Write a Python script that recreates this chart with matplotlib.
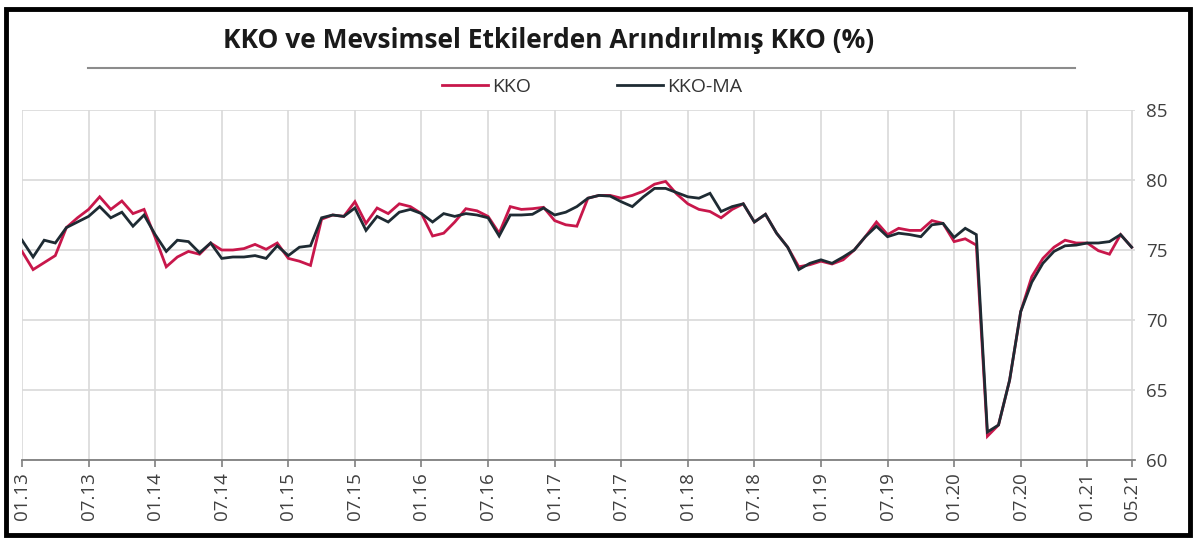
import matplotlib
matplotlib.use("Agg")
import matplotlib.pyplot as plt
from matplotlib.patches import Rectangle
from matplotlib.lines import Line2D

plt.rcParams['font.family'] = ['Open Sans', 'DejaVu Sans']

title = "KKO ve Mevsimsel Etkilerden Arındırılmış KKO (%)"
series_names = ["KKO", "KKO-MA"]

tick_labels = ["01.13", "07.13", "01.14", "07.14", "01.15", "07.15", "01.16", "07.16",
               "01.17", "07.17", "01.18", "07.18", "01.19", "07.19", "01.20", "07.20",
               "01.21", "05.21"]
tick_positions = [0, 6, 12, 18, 24, 30, 36, 42, 48, 54, 60, 66, 72, 78, 84, 90, 96, 100]

kko = [
    74.9, 73.6, 74.1, 74.6, 76.6, 77.3, 77.9, 78.8, 77.9, 78.5, 77.6, 77.9,
    75.9, 73.8, 74.5, 74.9, 74.7, 75.5, 75.0, 75.0, 75.1, 75.4, 75.05, 75.5,
    74.4, 74.2, 73.9, 77.2, 77.5, 77.4, 78.45, 76.9, 78.0, 77.6, 78.3, 78.1,
    77.6, 76.0, 76.2, 77.0, 77.95, 77.8, 77.4, 76.2, 78.1, 77.9, 77.95, 78.05,
    77.1, 76.8, 76.7, 78.7, 78.9, 78.9, 78.7, 78.9, 79.2, 79.7, 79.9, 79.0,
    78.3, 77.9, 77.75, 77.3, 77.9, 78.3, 77.0, 77.55, 76.2, 75.2, 73.8, 73.95,
    74.2, 74.0, 74.3, 75.0, 75.95, 77.0, 76.1, 76.55, 76.4, 76.4, 77.1, 76.9,
    75.6, 75.8, 75.35, 61.7, 62.5, 65.7, 70.6, 73.1, 74.4, 75.2, 75.7, 75.5,
    75.5, 74.95, 74.7, 76.1, 75.2,
]

kko_ma = [
    75.7, 74.5, 75.7, 75.5, 76.6, 77.0, 77.4, 78.1, 77.3, 77.7, 76.7, 77.5,
    76.1, 74.9, 75.7, 75.6, 74.8, 75.5, 74.4, 74.5, 74.5, 74.6, 74.4, 75.3,
    74.6, 75.2, 75.3, 77.3, 77.5, 77.4, 78.0, 76.4, 77.4, 77.0, 77.7, 77.9,
    77.6, 77.0, 77.6, 77.4, 77.6, 77.5, 77.3, 76.0, 77.5, 77.5, 77.55, 78.0,
    77.5, 77.7, 78.1, 78.7, 78.9, 78.85, 78.45, 78.1, 78.8, 79.4, 79.4, 79.1,
    78.8, 78.7, 79.05, 77.75, 78.1, 78.3, 77.0, 77.55, 76.2, 75.2, 73.6, 74.05,
    74.3, 74.05, 74.5, 75.0, 75.95, 76.7, 75.95, 76.2, 76.1, 75.95, 76.8, 76.9,
    75.9, 76.55, 76.1, 62.0, 62.5, 65.7, 70.6, 72.7, 74.05, 74.9, 75.3, 75.35,
    75.5, 75.5, 75.6, 76.1, 75.2,
]

y_ticks = [60, 65, 70, 75, 80, 85]

RED = "#C8174B"
DARK = "#1E2B33"
W, H = 1200, 544

fig = plt.figure(figsize=(12, 5.44), dpi=100)
fig.patch.set_facecolor("white")

ax = fig.add_axes([22 / W, 1 - 460 / H, (1135 - 22) / W, (460 - 110) / H])
x = list(range(len(kko)))
l1, = ax.plot(x, kko, color=RED, lw=2.0, solid_joinstyle="miter", zorder=3)
l2, = ax.plot(x, kko_ma, color=DARK, lw=2.0, solid_joinstyle="miter", zorder=4)

ax.set_xlim(0, 100.3)
ax.set_ylim(60, 85)
ax.set_xticks(tick_positions)
ax.set_xticklabels(tick_labels, rotation=90, fontsize=13.5, color="#404040")
ax.set_yticks(y_ticks)
ax.set_yticklabels([str(v) for v in y_ticks], fontsize=13.5, color="#404040")
ax.yaxis.tick_right()
ax.tick_params(axis="y", length=0, pad=8)
ax.tick_params(axis="x", length=5, width=1.2, color="#7f7f7f", pad=4)
for s in ["top", "left", "right"]:
    ax.spines[s].set_visible(False)
ax.spines["bottom"].set_color("#7f7f7f")
ax.spines["bottom"].set_linewidth(1.3)
ax.grid(True, color="#d9d9d9", lw=1.2, zorder=0)
ax.set_axisbelow(True)

# Title and separator line
fig.text(549 / W, 1 - 40 / H, title, ha="center", va="center",
         fontsize=19, fontweight="bold", color="#1a1a1a")
fig.add_artist(Line2D([88 / W, 1075 / W], [1 - 68 / H, 1 - 68 / H],
                      color="#8c8c8c", lw=1.5, transform=fig.transFigure))

# Legend
leg = fig.legend([l1, l2], series_names, loc="center",
                 bbox_to_anchor=(592 / W, 1 - 87 / H), ncol=2, frameon=False,
                 fontsize=14, handlelength=2.4, handletextpad=0.2,
                 columnspacing=4.4)
for t in leg.get_texts():
    t.set_color("#333333")

# Outer frame
fig.add_artist(Rectangle((6 / W, 9 / H), (1190 - 6) / W, (535 - 9) / H,
                         transform=fig.transFigure, fill=False,
                         edgecolor="black", lw=3.5))

fig.savefig("out.png", dpi=100)
